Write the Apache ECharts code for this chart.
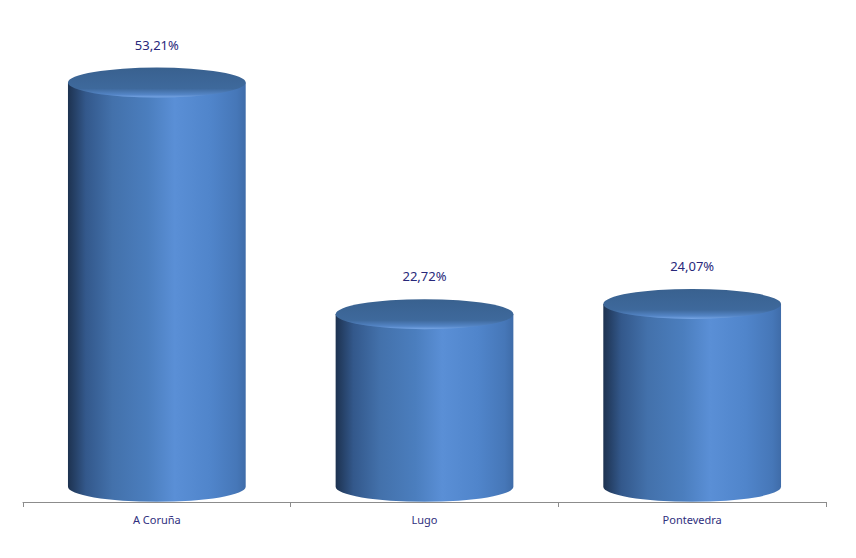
<!DOCTYPE html>
<html>
<head>
<meta charset="utf-8">
<script src="https://cdn.jsdelivr.net/npm/echarts@6/dist/echarts.min.js"></script>
<style>html,body{margin:0;padding:0;background:#fff}#c{width:856px;height:558px}</style>
</head>
<body>
<div id="c"></div>
<script>
var categories = ['A Coruña', 'Lugo', 'Pontevedra'];
var values = [53.21, 22.72, 24.07];

var chart = echarts.init(document.getElementById('c'), null, {renderer: 'svg'});

function fmt(v) { return v.toFixed(2).replace('.', ',') + '%'; }

var bodyGrad = {
  type: 'linear', x: 0, y: 0, x2: 1, y2: 0,
  colorStops: [
    {offset: 0, color: '#1d3250'},
    {offset: 0.1, color: '#33588b'},
    {offset: 0.25, color: '#4371ab'},
    {offset: 0.45, color: '#4b7ebe'},
    {offset: 0.6, color: '#5a8fd6'},
    {offset: 0.8, color: '#5085cb'},
    {offset: 0.95, color: '#4677b8'},
    {offset: 1, color: '#3f6ca9'}
  ]
};
var topGrad = {
  type: 'linear', x: 0, y: 0, x2: 0, y2: 1,
  colorStops: [
    {offset: 0, color: '#39618f'},
    {offset: 0.7, color: '#3e699c'},
    {offset: 0.9, color: '#5485c6'},
    {offset: 1, color: '#78a7e6'}
  ]
};

function renderItem(params, api) {
  var idx = api.value(0);
  var val = api.value(1);
  var top = api.coord([idx, val]);
  var base = api.coord([idx, 0]);
  var bw = api.size([1, 0])[0] * 0.664;
  var rx = bw / 2, ry = 15;
  var cx = top[0];
  var l = cx - rx, r = cx + rx;
  var bodyPath = 'M' + l + ' ' + top[1] + ' L' + l + ' ' + base[1] +
    ' A' + rx + ' ' + ry + ' 0 0 0 ' + r + ' ' + base[1] +
    ' L' + r + ' ' + top[1] + ' Z';
  var topPath = 'M' + l + ' ' + top[1] +
    ' A' + rx + ' ' + ry + ' 0 1 0 ' + r + ' ' + top[1] +
    ' A' + rx + ' ' + ry + ' 0 1 0 ' + l + ' ' + top[1] + ' Z';
  return {
    type: 'group',
    children: [
      {type: 'path', shape: {pathData: bodyPath}, style: {fill: bodyGrad}},
      {type: 'path', shape: {pathData: topPath}, style: {fill: topGrad}},
      {type: 'text', style: {
        text: fmt(val), x: cx, y: top[1] - 38,
        textAlign: 'center', textVerticalAlign: 'middle',
        fill: '#28287a', fontSize: 13, fontFamily: 'Noto Sans'
      }}
    ]
  };
}

chart.setOption({
  animation: false,
  backgroundColor: '#fff',
  grid: {left: 23, right: 30, top: 31, bottom: 56},
  xAxis: {
    type: 'category', data: categories,
    axisLine: {show: true, onZero: false, lineStyle: {color: '#8c8c8c', width: 1}},
    axisTick: {show: true, interval: 0, alignWithLabel: false, length: 5, lineStyle: {color: '#8c8c8c', width: 1}},
    axisLabel: {color: '#30307e', fontSize: 11, fontFamily: 'Noto Sans', margin: 12}
  },
  yAxis: {
    type: 'value', min: -2, max: 60, show: false, splitLine: {show: false}
  },
  series: [{
    type: 'custom',
    renderItem: renderItem,
    data: values.map(function (v, i) { return [i, v]; })
  }]
});
</script>
</body>
</html>
